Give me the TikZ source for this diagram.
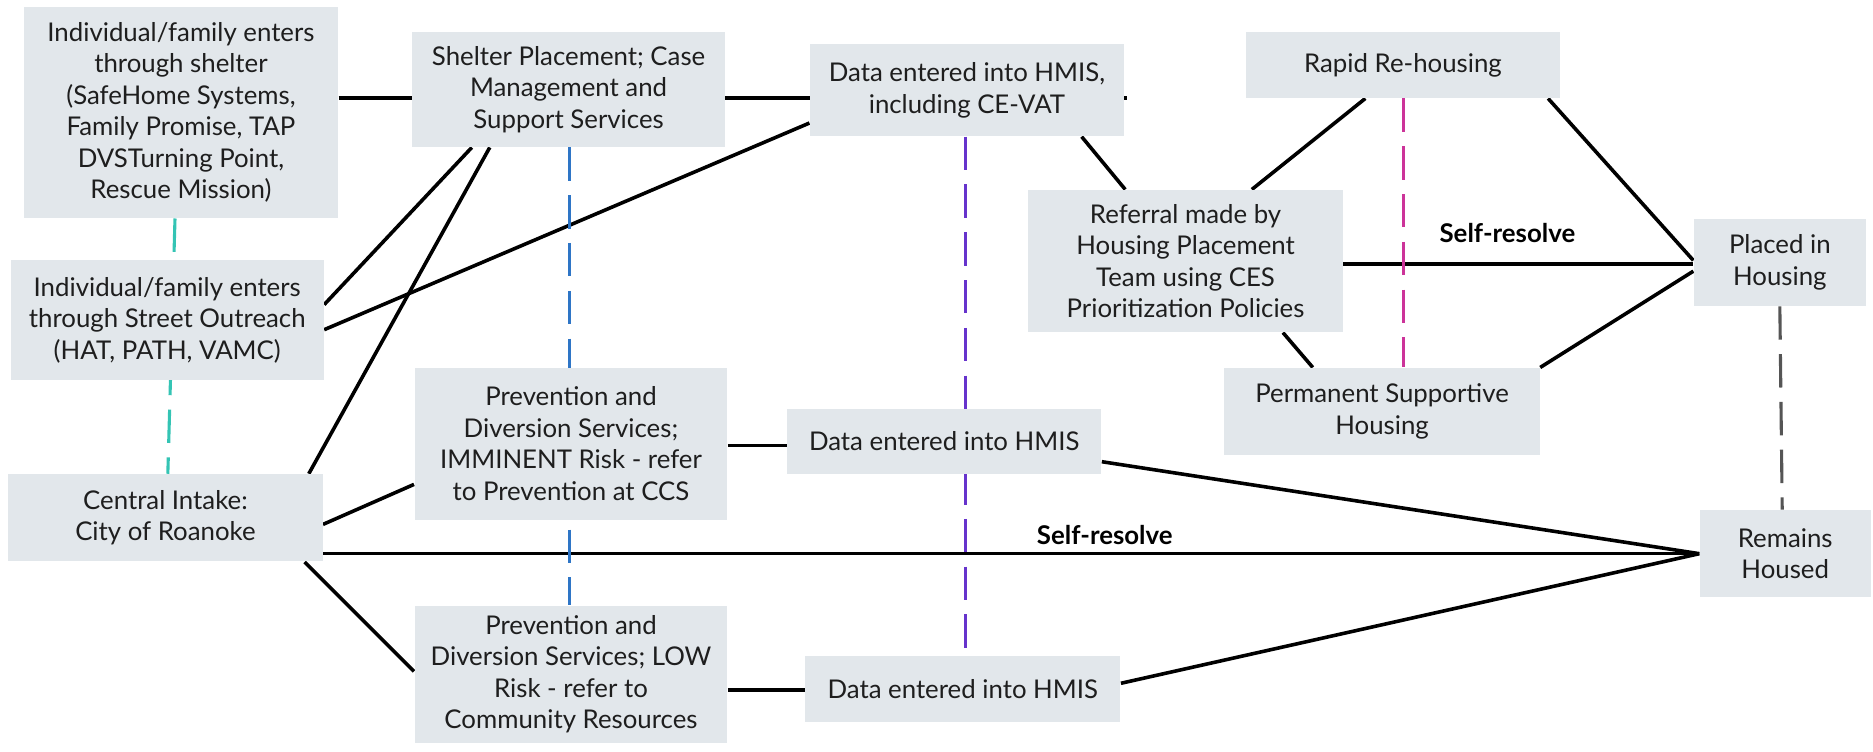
\documentclass[tikz,border=0pt]{standalone}
\usepackage{fontspec}
\setmainfont{Lato}
\definecolor{boxfill}{HTML}{E2E7EB}
\definecolor{txt}{HTML}{1E1E1E}
\definecolor{cteal}{HTML}{34C4B4}
\definecolor{cblue}{HTML}{2E75C6}
\definecolor{cpurple}{HTML}{6633CC}
\definecolor{cmag}{HTML}{CC3399}
\definecolor{cgray}{HTML}{555555}
\pgfdeclarelayer{background}
\pgfsetlayers{background,main}
\begin{document}
\begin{tikzpicture}[x=0.5pt,y=-0.5pt,
  box/.style={fill=boxfill, draw=none, align=center, inner sep=0pt, font=\fontsize{10.8}{13.2}\selectfont, text=txt},
  conn/.style={line width=1.5pt, black},
  dsh/.style={line width=1.3pt, dash pattern=on 14pt off 6pt},
  lbl/.style={font=\fontsize{10.8}{13.2}\selectfont\bfseries, inner sep=0pt, text=black}]
\useasboundingbox (0,0) rectangle (1568,628.7);

\node[box, minimum width=131.5pt, minimum height=88.5pt] (shelter) at (151.5,94)
  {Individual/family enters\\through shelter\\(SafeHome Systems,\\Family Promise, TAP\\DVSTurning Point,\\Rescue Mission)};
\node[box, minimum width=131pt, minimum height=48pt] (place) at (476,75)
  {Shelter Placement; Case\\Management and\\Support Services};
\node[box, minimum width=131.5pt, minimum height=38.5pt] (hmis1) at (809.5,75.5)
  {Data entered into HMIS,\\including CE-VAT};
\node[box, minimum width=131pt, minimum height=50pt] (street) at (140,268)
  {Individual/family enters\\through Street Outreach\\(HAT, PATH, VAMC)};
\node[box, minimum width=131.5pt, minimum height=36.5pt] (intake) at (138.5,433.5)
  {Central Intake:\\City of Roanoke};
\node[box, minimum width=131pt, minimum height=63.5pt] (imm) at (478,371.5)
  {Prevention and\\Diversion Services;\\IMMINENT Risk - refer\\to Prevention at CCS};
\node[box, minimum width=131pt, minimum height=57.5pt] (low) at (478,564.5)
  {Prevention and\\Diversion Services; LOW\\Risk - refer to\\Community Resources};
\node[box, minimum width=131.5pt, minimum height=27.5pt] (hmis2) at (790.5,369.5)
  {Data entered into HMIS};
\node[box, minimum width=132pt, minimum height=27.5pt] (hmis3) at (806,576.5)
  {Data entered into HMIS};
\node[box, minimum width=131.5pt, minimum height=27.5pt] (rrh) at (1174.5,54.5)
  {Rapid Re-housing};
\node[box, minimum width=131.5pt, minimum height=59.5pt] (ref) at (992.5,218.5)
  {Referral made by\\Housing Placement\\Team using CES\\Prioritization Policies};
\node[box, minimum width=72pt, minimum height=36.5pt] (placed) at (1490,219.5)
  {Placed in\\Housing};
\node[box, minimum width=132pt, minimum height=36.5pt] (psh) at (1157,344.5)
  {Permanent Supportive\\Housing};
\node[box, minimum width=71.5pt, minimum height=36.5pt] (remains) at (1494.5,463.5)
  {Remains\\Housed};

\coordinate (stub) at ([shift={(2,6.5)}]hmis1.east);

\begin{pgfonlayer}{background}
  % solid connectors
  \draw[conn] ([shift={(0,-12)}]shelter.east) -- (stub);
  \draw[conn] ([shift={(0,-13)}]street.east) -- ([shift={(-81,0)}]place.south);
  \draw[conn] ([shift={(120,0)}]intake.north) -- ([shift={(-66,0)}]place.south);
  \draw[conn] ([shift={(0,8)}]street.east) -- ([shift={(0,27.5)}]hmis1.west);
  \draw[conn] ([shift={(0,5.5)}]intake.east) -- ([shift={(0,34)}]imm.west);
  \draw[conn] ([shift={(116.5,0)}]intake.south) -- ([shift={(0,-2.5)}]low.west);
  \draw[conn] ([shift={(0,30)}]intake.east) -- (remains.west)
     node[lbl, pos=0.568, yshift=7.75pt] (sr1) {Self-resolve};
  \draw[conn] ([shift={(0,1.5)}]imm.east) -- ([shift={(0,3.5)}]hmis2.west);
  \draw[conn] ([shift={(0,13)}]low.east) -- ([shift={(0,1)}]hmis3.west);
  \draw[conn] ([shift={(0,17)}]hmis2.east) -- (remains.west);
  \draw[conn] ([shift={(0,-4.5)}]hmis3.east) -- (remains.west);
  \draw[conn] ([shift={(96,0)}]hmis1.south) -- ([shift={(-50.5,0)}]ref.north);
  \draw[conn] ([shift={(55.5,0)}]ref.north) -- ([shift={(-31.5,0)}]rrh.south);
  \draw[conn] ([shift={(121.5,0)}]rrh.south) -- ([shift={(0,-1.5)}]placed.west);
  \draw[conn] ([shift={(0,2.5)}]ref.east) -- ([shift={(0,1.5)}]placed.west)
     node[lbl, pos=0.469, yshift=13pt] (sr2) {Self-resolve};
  \draw[conn] ([shift={(0,7.5)}]placed.west) -- (psh.north east);
  \draw[conn] ([shift={(81.5,0)}]ref.south) -- ([shift={(-58,0)}]psh.north);
  % dashed connectors
  \draw[dsh, cteal] ([shift={(-5,0)}]shelter.south) -- ([shift={(2,0)}]intake.north);
  \draw[dsh, cblue] ([shift={(1,0)}]place.south) -- ([shift={(-1,0)}]low.north);
  \draw[dsh, cpurple] ([shift={(-1,0)}]hmis1.south) -- ([shift={(2.5,0)}]hmis3.north);
  \draw[dsh, cmag] ([shift={(0.5,0)}]rrh.south) -- ([shift={(18,0)}]psh.north);
  \draw[dsh, cgray] (placed.south) -- ([shift={(-2.5,0)}]remains.north);
\end{pgfonlayer}
\end{tikzpicture}
\end{document}
